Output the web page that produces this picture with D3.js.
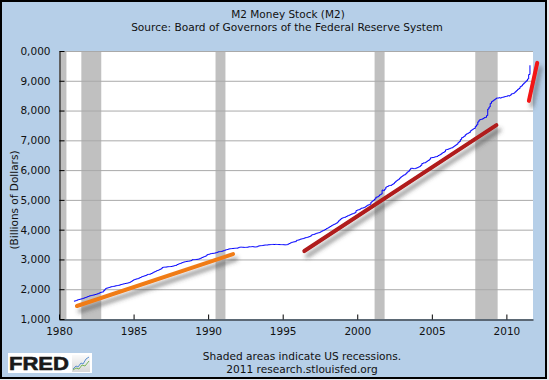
<!DOCTYPE html>
<html><head><meta charset="utf-8">
<script src="https://cdn.jsdelivr.net/npm/d3@7"></script>
<style>html,body{margin:0;padding:0;background:#e6e9ee;}svg{display:block;}</style>
</head><body>
<script>
// ---------- DATA ----------
const title = "M2 Money Stock (M2)";
const subtitle = "Source: Board of Governors of the Federal Reserve System";
const yAxisTitle = "(Billions of Dollars)";
const footer1 = "Shaded areas indicate US recessions.";
const footer2 = "2011 research.stlouisfed.org";
const seriesStart = "1981-01";   // monthly series start
const m2Values = [
 1601,1611,1627,1647,1657,1666,1678,1693,1706,1719,1736,1755,
 1772,1780,1792,1801,1811,1822,1835,1850,1868,1886,1902,1910,
 1962,2010,2034,2045,2060,2072,2084,2092,2100,2110,2118,2126,
 2135,2148,2160,2172,2182,2192,2199,2208,2220,2238,2262,2292,
 2318,2333,2343,2352,2370,2392,2410,2428,2442,2455,2470,2495,
 2500,2508,2525,2548,2572,2592,2612,2630,2646,2668,2688,2730,
 2740,2742,2745,2752,2758,2760,2764,2772,2782,2796,2804,2830,
 2848,2862,2878,2893,2910,2920,2930,2937,2942,2950,2960,2990,
 2992,2995,3000,3004,3010,3026,3046,3068,3084,3100,3120,3158,
 3170,3182,3195,3203,3205,3212,3225,3240,3255,3262,3268,3278,
 3290,3305,3322,3332,3346,3356,3362,3366,3370,3374,3378,3379,
 3392,3408,3414,3410,3408,3404,3405,3410,3418,3425,3425,3432,
 3426,3420,3418,3426,3448,3456,3462,3466,3474,3480,3486,3483,
 3492,3495,3499,3503,3504,3502,3506,3502,3501,3500,3498,3498,
 3496,3492,3490,3495,3510,3533,3553,3573,3585,3592,3598,3640,
 3650,3660,3680,3690,3700,3715,3727,3738,3750,3765,3782,3820,
 3835,3845,3860,3878,3890,3900,3918,3945,3965,3985,4005,4035,
 4055,4080,4105,4132,4155,4177,4195,4218,4255,4300,4338,4377,
 4395,4410,4420,4440,4465,4480,4500,4520,4535,4550,4570,4638,
 4660,4668,4690,4720,4725,4740,4760,4790,4820,4835,4855,4925,
 4960,4990,5030,5090,5100,5130,5170,5195,5330,5310,5360,5430,
 5450,5475,5485,5490,5520,5545,5590,5630,5660,5690,5730,5770,
 5800,5830,5845,5880,5930,5960,6010,6060,6060,6050,6050,6065,
 6080,6100,6120,6160,6220,6240,6245,6270,6300,6325,6365,6415,
 6420,6425,6440,6450,6460,6490,6510,6535,6570,6590,6620,6680,
 6695,6705,6720,6740,6750,6780,6810,6840,6870,6920,6960,7030,
 7090,7110,7140,7190,7220,7240,7260,7320,7350,7380,7400,7470,
 7520,7620,7680,7700,7710,7730,7760,7770,7830,8050,8120,8240,
 8300,8330,8360,8390,8420,8420,8430,8420,8440,8450,8460,8470,
 8480,8500,8490,8520,8560,8570,8590,8630,8670,8710,8740,8800,
 8830,8880,8920,8960,9000,9060,9210,9520
];
const recessionStart = ["1980-01-01","1981-07-01","1990-07-01","2001-03-01","2007-12-01"];
const recessionEnd   = ["1980-07-01","1982-11-01","1991-03-01","2001-11-01","2009-06-01"];
const yTicks = [1000,2000,3000,4000,5000,6000,7000,8000,9000,10000];
const xTickYears = [1980,1985,1990,1995,2000,2005,2010];
const xDomain = ["1980-01-01","2011-10-15"];
const yDomain = [1000,10000];
// hand-drawn trend annotations (decimal year, billions)
const trendStartYear = [1981.2, 1996.45, 2011.51];
const trendStartVal  = [1436, 3282, 8326];
const trendEndYear   = [1991.67, 2009.33, 2012.07];
const trendEndVal    = [3181, 7510, 9601];

// ---------- STYLE ----------
const W = 549, H = 380;
const plot = {left:59, right:533, top:51, bottom:319};
const trendColors = ["#f07c18","#b01a1a","#f21414"];
const FONT = "'DejaVu Sans', Verdana, sans-serif";

const parseMonth = d3.timeParse("%Y-%m");
const parseDay = d3.timeParse("%Y-%m-%d");
const decYear = y => { const yr = Math.floor(y); const s = new Date(yr,0,1), e = new Date(yr+1,0,1); return new Date(+s + (y-yr)*(e-s)); };

const start = parseMonth(seriesStart);
const series = m2Values.map((v,i) => ({date: d3.timeMonth.offset(start, i), value: v}));

const x = d3.scaleTime().domain(xDomain.map(parseDay)).range([plot.left, plot.right]);
const y = d3.scaleLinear().domain(yDomain).range([plot.bottom, plot.top]);

const svg = d3.select("body").append("svg").attr("width", W).attr("height", H)
  .style("font-family", FONT);

const defs = svg.append("defs");
const f = defs.append("filter").attr("id","shadow").attr("x","-20%").attr("y","-20%").attr("width","150%").attr("height","160%");
f.append("feDropShadow").attr("dx",3).attr("dy",5).attr("stdDeviation",2.2)
  .attr("flood-color","#404040").attr("flood-opacity",0.55);
defs.append("clipPath").attr("id","ylabclip").append("rect")
  .attr("x",20).attr("y",0).attr("width",W).attr("height",H);

// frame
svg.append("rect").attr("x",1).attr("y",1).attr("width",545).attr("height",377)
  .attr("fill","#b6cfe8").attr("stroke","#000").attr("stroke-width",2);

// titles
svg.append("text").attr("x",288).attr("y",18).attr("text-anchor","middle")
  .attr("font-size","10.5px").attr("fill","#111").text(title);
svg.append("text").attr("x",287).attr("y",31).attr("text-anchor","middle")
  .attr("font-size","10.6px").attr("fill","#111").text(subtitle);

// plot background
svg.append("rect").attr("x",plot.left).attr("y",plot.top)
  .attr("width",plot.right-plot.left).attr("height",plot.bottom-plot.top).attr("fill","#fff");

// recessions
svg.append("g").selectAll("rect").data(recessionStart.map((s,i)=>({s:parseDay(s), e:parseDay(recessionEnd[i])})))
  .join("rect")
  .attr("x", d => Math.max(plot.left, x(d.s)))
  .attr("width", d => x(d.e) - Math.max(plot.left, x(d.s)))
  .attr("y", plot.top).attr("height", plot.bottom-plot.top)
  .attr("fill","#c0c0c0");

// gridlines
svg.append("g").selectAll("line").data(yTicks.slice(1))
  .join("line")
  .attr("x1",plot.left).attr("x2",plot.right)
  .attr("y1",d=>y(d)+0.5).attr("y2",d=>y(d)+0.5)
  .attr("stroke","#a9a9a9").attr("stroke-width",1);

// series line
svg.append("path").datum(series)
  .attr("fill","none").attr("stroke","#0000ff").attr("stroke-width",1)
  .attr("d", d3.line().x(d=>x(d.date)).y(d=>y(d.value)).curve(d3.curveStepAfter));

// trend annotations
svg.append("g").attr("filter","url(#shadow)").selectAll("line")
  .data(trendStartYear.map((s,i)=>({x1:decYear(s), y1:trendStartVal[i], x2:decYear(trendEndYear[i]), y2:trendEndVal[i], c:trendColors[i]})))
  .join("line")
  .attr("x1",d=>x(d.x1)).attr("y1",d=>y(d.y1))
  .attr("x2",d=>x(d.x2)).attr("y2",d=>y(d.y2))
  .attr("stroke",d=>d.c).attr("stroke-width",4).attr("stroke-linecap","round");

// y axis
const yAxis = svg.append("g").attr("transform",`translate(${plot.left+0.5},0)`)
  .call(d3.axisLeft(y).tickValues(yTicks).tickFormat(d3.format(",")).tickSizeInner(-5).tickSizeOuter(0).tickPadding(9));
yAxis.select(".domain").attr("stroke","#000");
yAxis.selectAll(".tick line").attr("stroke","#000");
yAxis.selectAll("text").attr("font-size","10.5px").attr("font-family",FONT).attr("fill","#111");
svg.append("g").attr("clip-path","url(#ylabclip)").node().appendChild(yAxis.node());

// x axis
const xAxis = svg.append("g").attr("transform",`translate(0,${plot.bottom+0.5})`)
  .call(d3.axisBottom(x).tickValues(xTickYears.map(yy=>new Date(yy,0,1))).tickFormat(d3.timeFormat("%Y"))
    .tickSizeInner(-5).tickSizeOuter(0).tickPadding(8));
xAxis.select(".domain").attr("stroke","#000");
xAxis.selectAll(".tick line").attr("stroke","#000");
xAxis.selectAll("text").attr("font-size","10.5px").attr("font-family",FONT).attr("fill","#111");

// y axis title
svg.append("text").attr("transform","translate(18,200) rotate(-90)").attr("text-anchor","middle")
  .attr("font-size","10.5px").attr("fill","#111").text(yAxisTitle);

// footer
svg.append("text").attr("x",302).attr("y",360).attr("text-anchor","middle")
  .attr("font-size","10.6px").attr("fill","#111").text(footer1);
svg.append("text").attr("x",302).attr("y",373).attr("text-anchor","middle")
  .attr("font-size","10.6px").attr("fill","#111").text(footer2);

// FRED logo
const logo = svg.append("g");
logo.append("rect").attr("x",8).attr("y",353).attr("width",84).attr("height",20).attr("fill","#fff");
logo.append("text").attr("x",9).attr("y",369.5).attr("font-family","'Liberation Sans', Arial, sans-serif")
  .attr("font-weight","bold").attr("font-size","19px").attr("fill","#1a1a1a").attr("stroke","#1a1a1a").attr("stroke-width",0.6)
  .attr("textLength",60).attr("lengthAdjust","spacingAndGlyphs").text("FRED");
const ig = defs.append("linearGradient").attr("id","ig").attr("x1",0).attr("x2",0).attr("y1",0).attr("y2",1);
ig.append("stop").attr("offset",0).attr("stop-color","#fafafa");
ig.append("stop").attr("offset",1).attr("stop-color","#d8d8d8");
logo.append("rect").attr("x",72).attr("y",355).attr("width",18).attr("height",17).attr("fill","url(#ig)");
const iconA = [[73,369],[76,366],[78,367],[81,363],[83,364],[86,359],[89,357]];
const iconB = [[73,370],[76,368],[79,369],[82,365],[85,366],[89,361]];
logo.append("path").attr("d",d3.line()(iconA)).attr("fill","none").attr("stroke","#5a8fd0").attr("stroke-width",1);
logo.append("path").attr("d",d3.line()(iconB)).attr("fill","none").attr("stroke","#7ab55a").attr("stroke-width",1);
</script>
</body></html>
